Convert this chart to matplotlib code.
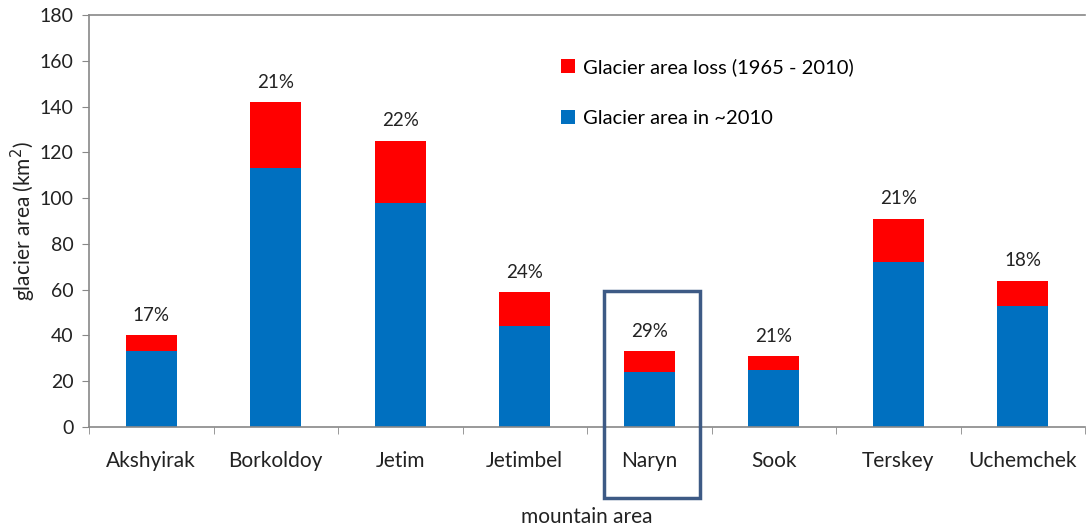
import matplotlib
matplotlib.use("Agg")
import matplotlib.pyplot as plt
from matplotlib.patches import Rectangle
import numpy as np

categories = ["Akshyirak", "Borkoldoy", "Jetim", "Jetimbel", "Naryn", "Sook", "Terskey", "Uchemchek"]
area_2010 = [33, 113, 98, 44, 24, 25, 72, 53]
area_total_1965 = [40, 142, 125, 59, 33, 31, 91, 64]
loss_pct_labels = ["17%", "21%", "22%", "24%", "29%", "21%", "21%", "18%"]
area_loss = [t - a for t, a in zip(area_total_1965, area_2010)]
y_ticks = [0, 20, 40, 60, 80, 100, 120, 140, 160, 180]

plt.rcParams['font.family'] = ['Lato', 'DejaVu Sans']

fig = plt.figure(figsize=(10.86, 5.30), dpi=100)
ax = fig.add_axes([89/1086, 1 - 427/530, (1085 - 89)/1086, (427 - 15)/530])

x = np.arange(len(categories))
w = 0.41
ax.bar(x, area_2010, width=w, color="#0070C0", label="Glacier area in ~2010", zorder=2)
ax.bar(x, area_loss, width=w, bottom=area_2010, color="#FF0000",
       label="Glacier area loss (1965 - 2010)", zorder=2)

for xi, tot, lab in zip(x, area_total_1965, loss_pct_labels):
    ax.text(xi, tot + 5, lab, ha="center", va="bottom", fontsize=13.5, color="#222222")

ax.set_xlim(-0.5, len(categories) - 0.5)
ax.set_ylim(0, 180)
ax.set_yticks(y_ticks)
ax.set_yticklabels([str(v) for v in y_ticks], fontsize=14, color="#222222")
ax.set_xticks(x)
ax.set_xticklabels(categories, fontsize=15, color="#222222")
ax.set_xticks(np.arange(len(categories) + 1) - 0.5, minor=True)
ax.tick_params(axis="x", which="major", length=0, pad=17)
ax.tick_params(axis="x", which="minor", length=5, color="#888888", direction="out")
ax.tick_params(axis="y", length=5, color="#888888", direction="out", pad=6)

for s in ["left", "bottom", "top"]:
    ax.spines[s].set_color("#888888")
    ax.spines[s].set_linewidth(1.2)
ax.spines["right"].set_visible(False)

ax.set_ylabel("glacier area (km$^2$)", fontsize=15, color="#222222", labelpad=1)
ax.set_xlabel("mountain area", fontsize=15, color="#222222", labelpad=26)

handles, labels = ax.get_legend_handles_labels()
leg = ax.legend(handles[::-1], labels[::-1], loc="upper left",
                bbox_to_anchor=((553 - 89)/996, (427 - 50)/412),
                frameon=False, fontsize=14.5, handlelength=0.7, handleheight=0.7,
                handletextpad=0.4, labelspacing=1.7, borderaxespad=0)

fig.patches.append(Rectangle((604/1086, 1 - 498/530), 96/1086, 207/530,
                             transform=fig.transFigure, fill=False,
                             edgecolor="#3D5A85", linewidth=2.5))

fig.savefig("out.png", dpi=100)
